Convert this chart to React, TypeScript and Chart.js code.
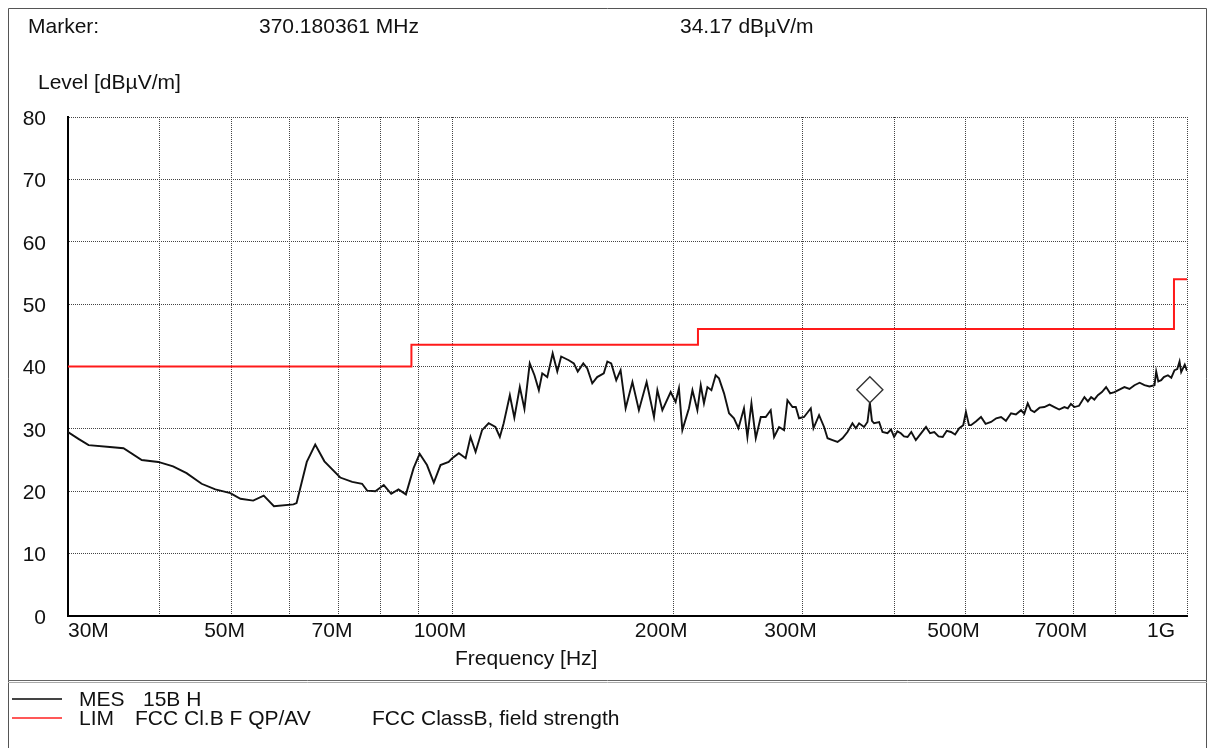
import React, { useEffect, useRef } from "react";
import { Chart, registerables } from "chart.js";

Chart.register(...registerables);

const FONT = '"Liberation Sans", Arial, sans-serif';

// ---------- data ----------
const yTickValues = [0, 10, 20, 30, 40, 50, 60, 70, 80];
const xGridMHz = [30, 40, 50, 60, 70, 80, 90, 100, 200, 300, 400, 500, 600, 700, 800, 900, 1000];
const xLabelMHz = [30, 50, 70, 100, 200, 300, 500, 700, 1000];
const xLabelTexts = ["30M", "50M", "70M", "100M", "200M", "300M", "500M", "700M", "1G"];

const mesFreqMHz = [
  30.0, 31.0, 32.0, 34.2, 35.7, 37.8, 39.8, 41.7, 43.5, 45.6, 47.6, 49.9, 51.5, 53.6, 55.4, 57.2,
  60.8, 61.4, 63.4, 65.1, 67.0, 70.4, 73.1, 75.4, 76.6, 78.6, 80.7, 82.6, 84.5, 86.5, 88.6, 90.3,
  92.4, 94.4, 96.4, 98.9,
  100.0, 102.1, 104.3, 105.9, 107.6, 109.8, 112.1, 114.5, 116.1, 117.5, 119.8, 121.5, 123.6, 125.4,
  127.5, 129.4, 131.2, 132.6, 134.7, 137.0, 139.0, 140.7, 144.1, 146.4, 148.2, 150.8, 152.7, 155.1,
  157.5, 160.8, 162.6, 164.6, 167.2, 169.5, 172.2, 175.9, 179.5, 183.9, 188.2, 190.2, 193.2, 198.3,
  201.4, 203.5, 205.7, 210.0, 212.3, 215.6, 217.9, 220.1, 222.5, 225.3, 228.3, 230.7, 234.4, 238.1,
  241.8, 245.2, 249.5, 252.2, 255.4, 258.9, 263.0, 267.1, 271.3, 274.2, 278.5, 282.9, 285.9, 290.5,
  293.5, 296.5, 301.2, 307.6, 310.2, 315.7, 320.7,
  324.2, 329.3, 334.5, 339.7, 345.1, 350.5, 354.2, 357.9, 363.5, 367.4, 370.18, 372.6, 375.1, 381.1,
  385.1, 391.2, 395.5, 399.4, 403.5, 407.9, 412.0, 416.6, 421.5, 427.5, 434.0, 441.4, 447.0, 453.0,
  459.0, 465.1, 471.0, 477.3, 483.5, 489.9, 496.0, 500.2, 505.0, 508.2, 516.0, 524.4, 532.0, 541.2,
  550.0, 558.4, 567.0, 576.2, 585.0, 594.5, 600.5, 607.1, 613.0, 619.8, 630.0, 639.5, 650.0, 660.0,
  670.0, 681.0, 688.3, 695.0, 702.7, 713.0, 725.1, 733.0, 740.5, 748.0, 756.2, 766.0, 776.1, 786.0,
  796.6, 809.0, 821.9, 835.0, 848.2, 862.0, 875.2, 889.0, 903.2, 908.0, 914.0, 922.3, 930.0, 941.9,
  952.0, 961.7, 970.0, 976.9, 982.0, 987.4, 993.0, 1000.0,
];

const mesLevel = [
  29.5, 28.4, 27.4, 27.1, 26.9, 25.0, 24.7, 24.0, 22.9, 21.2, 20.3, 19.7, 18.8, 18.5, 19.3, 17.6,
  17.9, 18.1, 24.7, 27.5, 24.8, 22.2, 21.5, 21.2, 20.1, 20.0, 21.0, 19.6, 20.3, 19.5, 23.7, 26.0,
  24.2, 21.4, 24.2, 24.7,
  25.3, 26.1, 25.3, 28.7, 26.3, 29.8, 30.9, 30.3, 28.7, 30.9, 35.4, 31.8, 36.7, 33.2,
  40.5, 38.6, 36.2, 38.9, 38.3, 42.1, 39.2, 41.6, 41.0, 40.5, 39.2, 40.5, 39.7, 37.3,
  38.3, 38.9, 40.8, 40.5, 37.8, 39.4, 33.3, 37.5, 33.0, 37.5, 31.9, 36.2, 33.0, 35.9,
  34.3, 36.5, 29.8, 33.3, 36.2, 33.0, 37.0, 34.1, 36.7, 36.2, 38.6, 38.1, 35.7, 32.5,
  31.7, 30.1, 33.3, 28.7, 34.1, 28.5, 31.9, 31.9, 33.0, 28.7, 30.3, 29.8, 34.6, 33.5,
  33.5, 31.7, 31.9, 33.3, 30.1, 32.2, 30.3,
  28.5, 28.2, 27.9, 28.5, 29.5, 30.9, 30.1, 30.9, 30.3, 31.1, 34.17, 31.3, 30.9, 31.1,
  29.5, 29.3, 29.9, 28.7, 29.6, 29.3, 28.8, 28.7, 29.5, 28.2, 29.2, 30.3, 29.3, 29.5,
  28.8, 28.7, 29.7, 29.5, 29.1, 30.1, 30.6, 32.7, 30.6, 30.6, 31.2, 31.9, 30.8, 31.1,
  31.7, 31.9, 31.3, 32.5, 32.3, 33.0, 32.4, 34.1, 33.0, 32.7, 33.4, 33.5, 33.9, 33.5,
  33.1, 33.5, 33.3, 34.0, 33.5, 33.7, 35.1, 34.4, 35.1, 34.7, 35.4, 35.9, 36.7, 35.7,
  35.9, 36.3, 36.7, 36.4, 37.0, 37.4, 37.0, 36.8, 37.0, 39.2, 37.6, 37.8, 38.3, 38.6,
  38.2, 39.4, 39.6, 40.8, 39.1, 39.7, 40.3, 39.3,
];

const limFreqMHz = [30, 88, 216, 960, 1000];
const limLevel = [40, 43.5, 46, 54, 54];

const markerFreqMHz = 370.180361;
const markerLevel = 34.17;

const headerLabel = "Marker:";
const yAxisTitle = "Level [dBµV/m]";
const xAxisTitle = "Frequency [Hz]";
const legendMes = ["MES", "15B H"];
const legendLim = ["LIM", "FCC Cl.B F QP/AV", "FCC ClassB, field strength"];

// ---------- drawing plugin ----------
const overlayPlugin = {
  id: "overlay",
  afterDraw(chart: any) {
    const { ctx, chartArea: a, scales } = chart;
    const xs = scales.x;
    const ys = scales.y;
    ctx.save();

    // frame
    ctx.strokeStyle = "#555";
    ctx.lineWidth = 1;
    ctx.beginPath();
    ctx.moveTo(8.5, 760);
    ctx.lineTo(8.5, 8.5);
    ctx.lineTo(1206.5, 8.5);
    ctx.lineTo(1206.5, 760);
    ctx.stroke();
    // separator (double line)
    ctx.strokeStyle = "#666";
    ctx.beginPath();
    ctx.moveTo(8, 680.5);
    ctx.lineTo(1207, 680.5);
    ctx.stroke();
    ctx.strokeStyle = "#aaa";
    ctx.beginPath();
    ctx.moveTo(8, 682.5);
    ctx.lineTo(1207, 682.5);
    ctx.stroke();

    ctx.fillStyle = "#111";
    ctx.font = `21px ${FONT}`;
    ctx.textBaseline = "middle";
    ctx.textAlign = "left";

    // header
    ctx.fillText(headerLabel, 28, 27);
    ctx.fillText(`${markerFreqMHz.toFixed(6)} MHz`, 259, 27);
    ctx.fillText(`${markerLevel.toFixed(2)} dBµV/m`, 680, 27);

    // y title
    ctx.fillText(yAxisTitle, 38, 83);

    // y tick labels
    ctx.textAlign = "right";
    yTickValues.forEach((v) => {
      ctx.fillText(String(v), 46, ys.getPixelForValue(v) + 2);
    });

    // x tick labels
    ctx.textAlign = "left";
    xLabelMHz.forEach((v, i) => {
      const t = xLabelTexts[i];
      const w = ctx.measureText(t).width;
      let left = xs.getPixelForValue(v) + 14 - w;
      if (left < a.left) left = a.left;
      if (left + w > a.right - 12) left = a.right - 12 - w;
      ctx.fillText(t, left, a.bottom + 15);
    });

    // x title
    ctx.fillText(xAxisTitle, 455, 659);

    // marker diamond
    const mx = xs.getPixelForValue(markerFreqMHz);
    const my = ys.getPixelForValue(markerLevel);
    const h = 13;
    ctx.beginPath();
    ctx.moveTo(mx, my);
    ctx.lineTo(mx + h, my - h);
    ctx.lineTo(mx, my - 2 * h);
    ctx.lineTo(mx - h, my - h);
    ctx.closePath();
    ctx.fillStyle = "#fff";
    ctx.fill();
    ctx.strokeStyle = "#333";
    ctx.lineWidth = 1.4;
    ctx.stroke();

    // legend
    ctx.lineWidth = 2;
    ctx.strokeStyle = "#444";
    ctx.beginPath();
    ctx.moveTo(12, 699);
    ctx.lineTo(62, 699);
    ctx.stroke();
    ctx.strokeStyle = "#ff2020";
    ctx.lineWidth = 1.5;
    ctx.beginPath();
    ctx.moveTo(12, 718);
    ctx.lineTo(62, 718);
    ctx.stroke();

    ctx.fillStyle = "#111";
    ctx.fillText(legendMes[0], 79, 700);
    ctx.fillText(legendMes[1], 143, 700);
    ctx.fillText(legendLim[0], 79, 719);
    ctx.fillText(legendLim[1], 135, 719);
    ctx.fillText(legendLim[2], 372, 719);

    ctx.restore();
  },
};

export default function App() {
  const canvasRef = useRef<HTMLCanvasElement | null>(null);

  useEffect(() => {
    const canvas = canvasRef.current;
    if (!canvas) return;

    const gridOpts = {
      color: "#444",
      lineWidth: 1,
      drawTicks: false,
      tickLength: 0,
    };
    const borderOpts = { display: true, color: "#000", width: 2, dash: [1, 1] };

    const chart = new Chart(canvas, {
      type: "line",
      data: {
        datasets: [
          {
            label: "MES",
            data: mesFreqMHz.map((f, i) => ({ x: f, y: mesLevel[i] })),
            borderColor: "#111",
            borderWidth: 1.9,
            pointRadius: 0,
            tension: 0,
          },
          {
            label: "LIM",
            data: limFreqMHz.map((f, i) => ({ x: f, y: limLevel[i] })),
            borderColor: "#ff1a1a",
            borderWidth: 2,
            pointRadius: 0,
            stepped: "before",
          },
        ],
      },
      options: {
        animation: false,
        responsive: false,
        maintainAspectRatio: false,
        events: [],
        layout: { padding: { left: 68, top: 117, right: 21, bottom: 132 } },
        plugins: { legend: { display: false }, tooltip: { enabled: false } },
        scales: {
          x: {
            type: "logarithmic",
            min: 30,
            max: 1000,
            afterBuildTicks: (scale: any) => {
              scale.ticks = xGridMHz.map((v) => ({ value: v }));
            },
            ticks: { display: false },
            grid: gridOpts,
            border: borderOpts,
          },
          y: {
            type: "linear",
            min: 0,
            max: 80,
            afterBuildTicks: (scale: any) => {
              scale.ticks = yTickValues.map((v) => ({ value: v }));
            },
            ticks: { display: false },
            grid: gridOpts,
            border: borderOpts,
          },
        },
      } as any,
      plugins: [overlayPlugin],
    });

    return () => chart.destroy();
  }, []);

  return (
    <div style={{ position: "absolute", left: 0, top: 0, width: 1208, height: 748, background: "#fff" }}>
      <canvas ref={canvasRef} width={1208} height={748} style={{ display: "block", width: 1208, height: 748 }} />
    </div>
  );
}
